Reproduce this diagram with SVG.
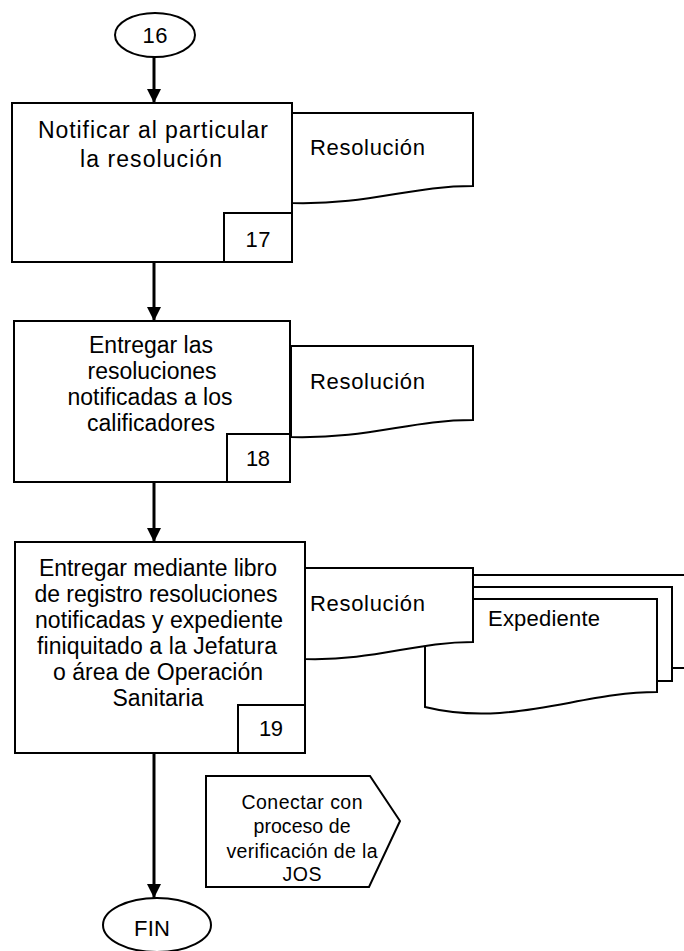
<svg xmlns="http://www.w3.org/2000/svg" width="684" height="951" viewBox="0 0 684 951">
  <style>
    .shape { fill: #fff; stroke: #000; stroke-width: 2; }
    .link { fill: none; stroke: #000; stroke-width: 3; }
    text { font-family: "Liberation Sans", Arial, sans-serif; fill: #000; }
    .t21 { font-size: 23px; text-anchor: middle; }
    .t19 { font-size: 22px; }
    .num { font-size: 22px; text-anchor: middle; }
    .t17 { font-size: 19.5px; text-anchor: middle; }
  </style>
  <defs>
    <marker id="arrow" markerUnits="userSpaceOnUse" markerWidth="14" markerHeight="16" refX="14" refY="7" orient="auto">
      <path d="M0,0 L14,7 L0,14 Z" fill="#000"/>
    </marker>
  </defs>

  <!-- connectors -->
  <g id="connectors">
    <line class="link" x1="154" y1="57" x2="154" y2="103" marker-end="url(#arrow)"/>
    <line class="link" x1="154" y1="262" x2="154" y2="321" marker-end="url(#arrow)"/>
    <line class="link" x1="154" y1="482" x2="154" y2="542" marker-end="url(#arrow)"/>
    <line class="link" x1="154" y1="753" x2="154" y2="898" marker-end="url(#arrow)"/>
  </g>

  <!-- connector 16 -->
  <g id="start16">
    <ellipse class="shape" cx="155" cy="35" rx="40" ry="22"/>
    <text class="num" x="155" y="43" font-size="20" textLength="25">16</text>
  </g>

  <!-- step 17 -->
  <g id="step17">
    <rect class="shape" x="12" y="103" width="280" height="159"/>
    <rect class="shape" x="224" y="213" width="68" height="49"/>
    <text class="t21" x="153" y="138" textLength="230">Notificar al particular</text>
    <text class="t21" x="151" y="167" textLength="142">la resolución</text>
    <text class="num" x="258" y="247" textLength="25">17</text>
  </g>
  <g id="doc17">
    <path class="shape" d="M292,113 H473 V186 C410,186 370,205 292,203 Z"/>
    <text class="t19" x="310" y="155" textLength="115">Resolución</text>
  </g>

  <!-- step 18 -->
  <g id="step18">
    <rect class="shape" x="14" y="321" width="276" height="161"/>
    <rect class="shape" x="227" y="434" width="63" height="48"/>
    <text class="t21" x="151" y="353" textLength="124">Entregar las</text>
    <text class="t21" x="152" y="379" textLength="129">resoluciones</text>
    <text class="t21" x="150" y="405" textLength="165">notificadas a los</text>
    <text class="t21" x="151" y="431" textLength="128">calificadores</text>
    <text class="num" x="258" y="466" textLength="24">18</text>
  </g>
  <g id="doc18">
    <path class="shape" d="M291,346 H473 V420 C410,420 370,439 291,437 Z"/>
    <text class="t19" x="310" y="389" textLength="115">Resolución</text>
  </g>

  <!-- step 19 -->
  <g id="step19">
    <rect class="shape" x="15" y="542" width="290" height="211"/>
    <rect class="shape" x="238" y="705" width="67" height="48"/>
    <text class="t21" x="158" y="576" textLength="238">Entregar mediante libro</text>
    <text class="t21" x="156" y="602" textLength="243">de registro resoluciones</text>
    <text class="t21" x="159" y="628" textLength="248">notificadas y expediente</text>
    <text class="t21" x="157" y="654" textLength="240">finiquitado a la Jefatura</text>
    <text class="t21" x="158" y="680" textLength="210">o área de Operación</text>
    <text class="t21" x="158" y="706" textLength="91">Sanitaria</text>
    <text class="num" x="271" y="736" textLength="24">19</text>
  </g>
  <g id="doc19-expediente">
    <path class="shape" d="M473,575 H692 V668 H473 Z"/>
    <path class="shape" d="M473,587 H672 V681 H473 Z"/>
    <path class="shape" d="M425,599 H657 V692 C580,692 510,728 425,707 Z"/>
    <text class="t19" x="488" y="626" textLength="112">Expediente</text>
  </g>
  <g id="doc19-resolucion">
    <path class="shape" d="M305,568 H473 V642 C415,642 375,661 305,659 Z"/>
    <text class="t19" x="310" y="611" textLength="115">Resolución</text>
  </g>

  <!-- off-page connector -->
  <g id="offpage">
    <path class="shape" d="M206,776 H370 L400,821 L369,887 H206 Z"/>
    <text class="t17" x="302" y="809" textLength="121">Conectar con</text>
    <text class="t17" x="302" y="833" textLength="97">proceso de</text>
    <text class="t17" x="302" y="858" textLength="151">verificación de la</text>
    <text class="t17" x="302" y="881" textLength="39">JOS</text>
  </g>

  <!-- end -->
  <g id="end">
    <ellipse class="shape" cx="157" cy="925" rx="54" ry="27"/>
    <text x="152" y="936" font-size="22" text-anchor="middle" textLength="36">FIN</text>
  </g>
</svg>
